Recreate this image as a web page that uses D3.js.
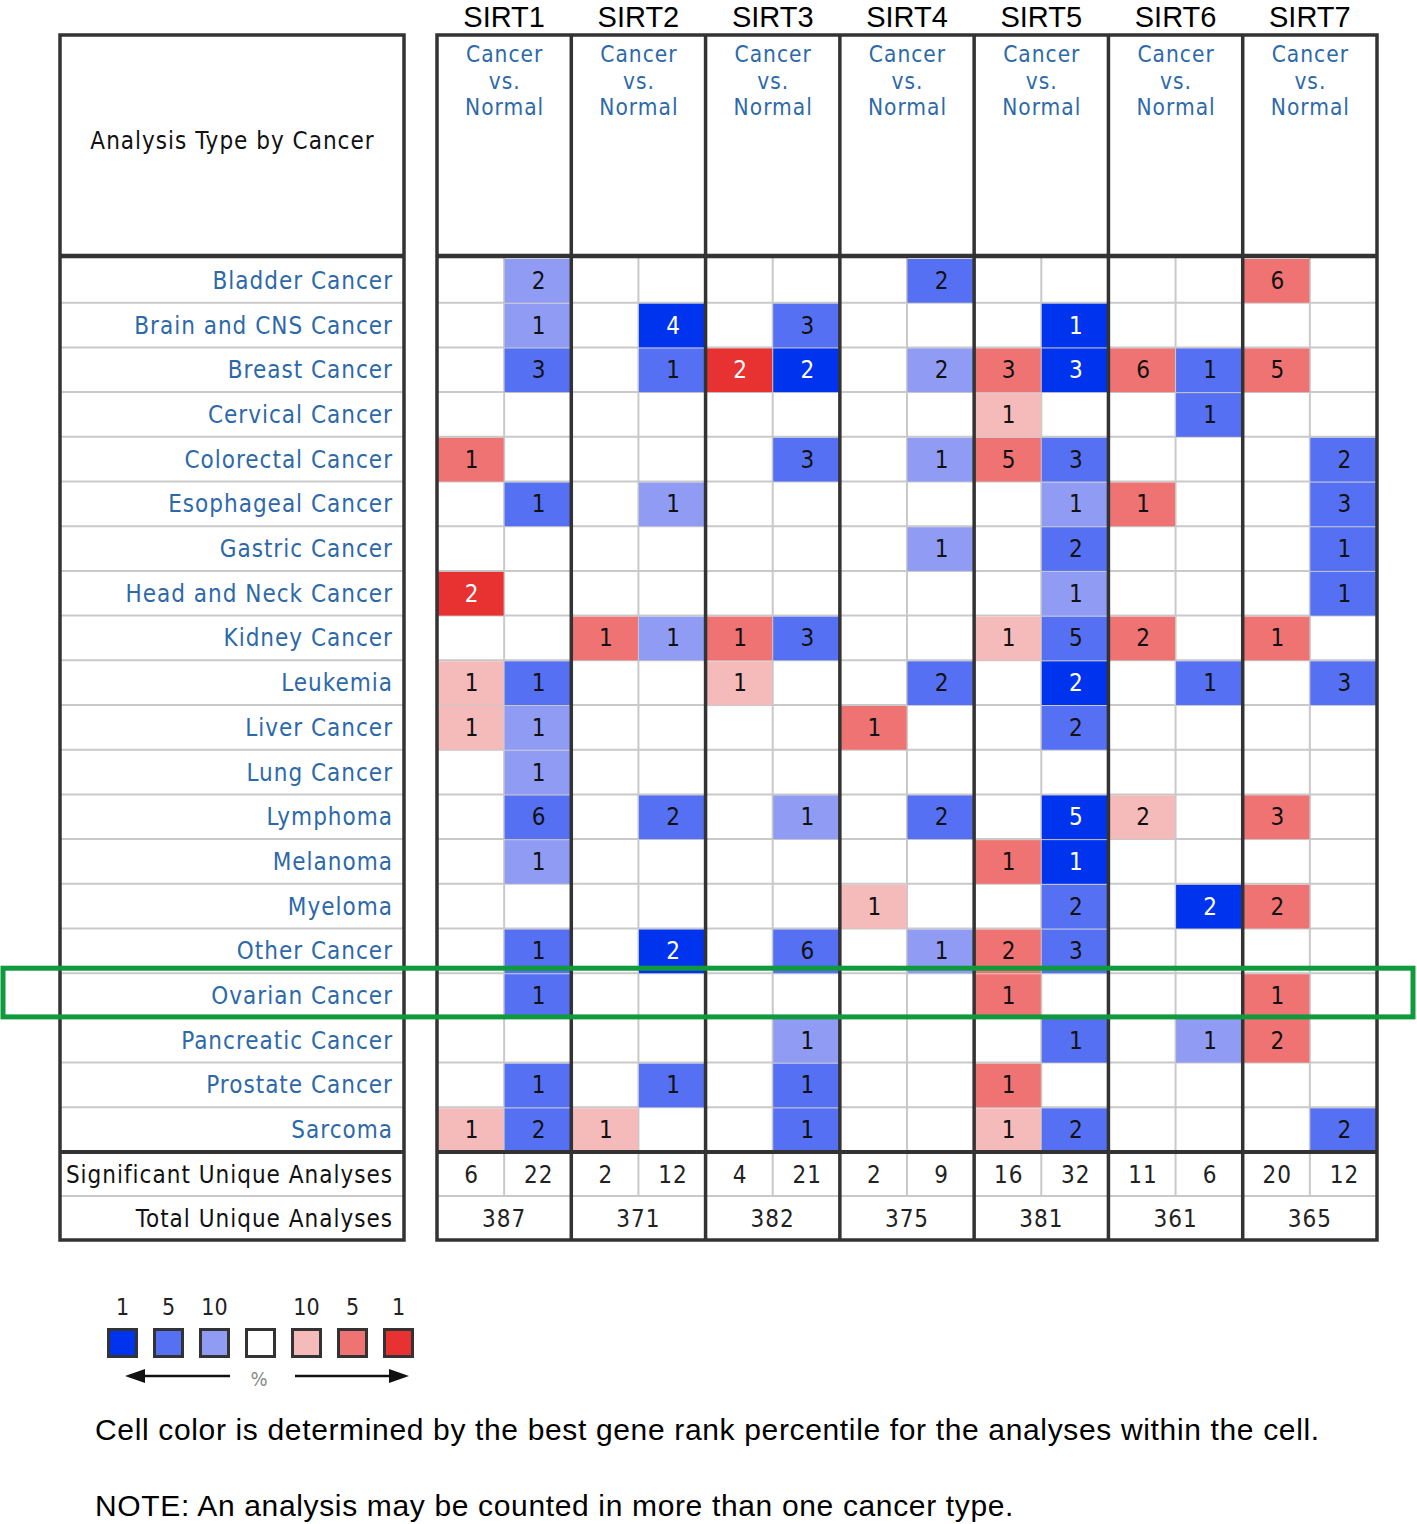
<!DOCTYPE html>
<html><head><meta charset="utf-8">
<script src="https://cdn.jsdelivr.net/npm/d3@7"></script>
<style>
html,body{margin:0;padding:0;background:#fff;}
svg{display:block;}
</style></head>
<body>
<svg id="chart" width="1417" height="1524"></svg>
<script>
// ---------------- DATA ----------------
const cancers = ["Bladder Cancer","Brain and CNS Cancer","Breast Cancer","Cervical Cancer","Colorectal Cancer",
  "Esophageal Cancer","Gastric Cancer","Head and Neck Cancer","Kidney Cancer","Leukemia","Liver Cancer",
  "Lung Cancer","Lymphoma","Melanoma","Myeloma","Other Cancer","Ovarian Cancer","Pancreatic Cancer",
  "Prostate Cancer","Sarcoma"];
const genes = ["SIRT1","SIRT2","SIRT3","SIRT4","SIRT5","SIRT6","SIRT7"];
const sigUp = [6,2,4,2,16,11,20];
const sigDown = [22,12,21,9,32,6,12];
const totals = [387,371,382,375,381,361,365];
// count of analyses per cell (0 = none); up = Cancer > Normal (red), down = Cancer < Normal (blue)
const upCounts = [
  [0,0,0,0,1,0,0,2,0,1,1,0,0,0,0,0,0,0,0,1],
  [0,0,0,0,0,0,0,0,1,0,0,0,0,0,0,0,0,0,0,1],
  [0,0,2,0,0,0,0,0,1,1,0,0,0,0,0,0,0,0,0,0],
  [0,0,0,0,0,0,0,0,0,0,1,0,0,0,1,0,0,0,0,0],
  [0,0,3,1,5,0,0,0,1,0,0,0,0,1,0,2,1,0,1,1],
  [0,0,6,0,0,1,0,0,2,0,0,0,2,0,0,0,0,0,0,0],
  [6,0,5,0,0,0,0,0,1,0,0,0,3,0,2,0,1,2,0,0]
];
// best gene rank percentile per cell (1, 5, 10 ; 0 = none)
const upPct = [
  [0,0,0,0,5,0,0,1,0,10,10,0,0,0,0,0,0,0,0,10],
  [0,0,0,0,0,0,0,0,5,0,0,0,0,0,0,0,0,0,0,10],
  [0,0,1,0,0,0,0,0,5,10,0,0,0,0,0,0,0,0,0,0],
  [0,0,0,0,0,0,0,0,0,0,5,0,0,0,10,0,0,0,0,0],
  [0,0,5,10,5,0,0,0,10,0,0,0,0,5,0,5,5,0,5,10],
  [0,0,5,0,0,5,0,0,5,0,0,0,10,0,0,0,0,0,0,0],
  [5,0,5,0,0,0,0,0,5,0,0,0,5,0,5,0,5,5,0,0]
];
const downCounts = [
  [2,1,3,0,0,1,0,0,0,1,1,1,6,1,0,1,1,0,1,2],
  [0,4,1,0,0,1,0,0,1,0,0,0,2,0,0,2,0,0,1,0],
  [0,3,2,0,3,0,0,0,3,0,0,0,1,0,0,6,0,1,1,1],
  [2,0,2,0,1,0,1,0,0,2,0,0,2,0,0,1,0,0,0,0],
  [0,1,3,0,3,1,2,1,5,2,2,0,5,1,2,3,0,1,0,2],
  [0,0,1,1,0,0,0,0,0,1,0,0,0,0,2,0,0,1,0,0],
  [0,0,0,0,2,3,1,1,0,3,0,0,0,0,0,0,0,0,0,2]
];
const downPct = [
  [10,10,5,0,0,5,0,0,0,5,10,10,5,10,0,5,5,0,5,5],
  [0,1,5,0,0,10,0,0,10,0,0,0,5,0,0,1,0,0,5,0],
  [0,5,1,0,5,0,0,0,5,0,0,0,10,0,0,5,0,10,5,5],
  [5,0,10,0,10,0,10,0,0,5,0,0,5,0,0,10,0,0,0,0],
  [0,1,1,0,5,10,5,10,5,1,5,0,1,1,5,5,0,5,0,5],
  [0,0,5,5,0,0,0,0,0,5,0,0,0,0,1,0,0,10,0,0],
  [0,0,0,0,5,5,5,5,0,5,0,0,0,0,0,0,0,0,0,5]
];
const legendLabels = ["1","5","10","","10","5","1"];
const legendKeys = ["b1","b5","b10","none","r10","r5","r1"];
const highlightRow = "Ovarian Cancer";
const notes = ["Cell color is determined by the best gene rank percentile for the analyses within the cell.",
  "NOTE: An analysis may be counted in more than one cancer type."];

(function () {
// ---------------- STYLE ----------------
const colors = {b1:"#0033ee", b5:"#5570f2", b10:"#909cf4", none:"#ffffff", r10:"#f5baba", r5:"#ef7373", r1:"#e83232"};
const tableFont = "'DejaVu Sans Condensed','DejaVu Sans',sans-serif";
const arial = "'Liberation Sans',Arial,sans-serif";
const labelBlue = "#2d69a9";
const thick = "#333", thin = "#c9c9c9";
const ls = 1; // letter spacing of table text

const svg = d3.select("#chart");

// ---------------- SCALES ----------------
const tTop = 35, headBottom = 256, bodyBottom = 1152, tBottom = 1240;
const leftX0 = 60, leftX1 = 404, gridX0 = 437, gridX1 = 1377;
const y = d3.scaleBand().domain(cancers).range([headBottom + 2, bodyBottom]);
const ySum = d3.scaleBand().domain(["sig","tot"]).range([bodyBottom, tBottom]);
const xg = d3.scaleBand().domain(genes).range([gridX0, gridX1]);
const xs = d3.scaleBand().domain(["up","down"]).range([0, xg.bandwidth()]);

// ---------------- CELLS ----------------
const cells = [];
genes.forEach((g, gi) => {
  cancers.forEach((c, ci) => {
    if (upCounts[gi][ci]) cells.push({g, c, dir:"up", n:upCounts[gi][ci], key:"r" + upPct[gi][ci]});
    if (downCounts[gi][ci]) cells.push({g, c, dir:"down", n:downCounts[gi][ci], key:"b" + downPct[gi][ci]});
  });
});

// ---------------- GRID LINES (thin) ----------------
const grid = svg.append("g").attr("stroke", thin).attr("stroke-width", 2);
cancers.slice(1).forEach(c => {
  grid.append("line").attr("x1", leftX0).attr("x2", leftX1).attr("y1", y(c)).attr("y2", y(c));
  grid.append("line").attr("x1", gridX0).attr("x2", gridX1).attr("y1", y(c)).attr("y2", y(c));
});
grid.append("line").attr("x1", leftX0).attr("x2", leftX1).attr("y1", ySum("tot")).attr("y2", ySum("tot"));
grid.append("line").attr("x1", gridX0).attr("x2", gridX1).attr("y1", ySum("tot")).attr("y2", ySum("tot"));
genes.forEach(g => {
  const xx = xg(g) + xs("down");
  grid.append("line").attr("x1", xx).attr("x2", xx).attr("y1", headBottom).attr("y2", ySum("tot"));
});

const cellG = svg.append("g");
cellG.selectAll("rect").data(cells).join("rect")
  .attr("x", d => xg(d.g) + xs(d.dir) + 0.5)
  .attr("y", d => y(d.c) + 1)
  .attr("width", xs.bandwidth() - 1)
  .attr("height", y.bandwidth() - 1)
  .attr("fill", d => colors[d.key]);

// ---------------- THICK BORDERS ----------------
const border = svg.append("g").attr("stroke", thick).attr("stroke-width", 3.5).attr("fill", "none");
border.append("rect").attr("x", leftX0).attr("y", tTop).attr("width", leftX1 - leftX0).attr("height", tBottom - tTop);
border.append("rect").attr("x", gridX0).attr("y", tTop).attr("width", gridX1 - gridX0).attr("height", tBottom - tTop);
[leftX0, gridX0].forEach((x0, i) => {
  const x1 = i ? gridX1 : leftX1;
  border.append("line").attr("x1", x0).attr("x2", x1).attr("y1", headBottom).attr("y2", headBottom).attr("stroke-width", 4.5);
  border.append("line").attr("x1", x0).attr("x2", x1).attr("y1", bodyBottom).attr("y2", bodyBottom).attr("stroke-width", 4);
});
genes.slice(1).forEach(g => {
  border.append("line").attr("x1", xg(g)).attr("x2", xg(g)).attr("y1", tTop).attr("y2", tBottom);
});

// ---------------- TEXT ----------------
svg.append("g").selectAll("text").data(genes).join("text")
  .attr("x", g => xg(g) + xg.bandwidth() / 2)
  .attr("y", 27)
  .attr("text-anchor", "middle")
  .attr("font-family", arial).attr("font-size", 29).attr("fill", "#000")
  .text(g => g);

genes.forEach(g => {
  const cx = xg(g) + xg.bandwidth() / 2 + ls / 2;
  [["Cancer", 62], ["vs.", 88.5], ["Normal", 114.5]].forEach(([s, yy]) => {
    svg.append("text").attr("x", cx).attr("y", yy)
      .attr("text-anchor", "middle").attr("letter-spacing", ls)
      .attr("font-family", tableFont).attr("font-size", 22.5).attr("fill", labelBlue)
      .text(s);
  });
});

svg.append("text").attr("x", (leftX0 + leftX1) / 2 + ls / 2).attr("y", 149)
  .attr("text-anchor", "middle").attr("letter-spacing", ls)
  .attr("font-family", tableFont).attr("font-size", 24).attr("fill", "#111")
  .text("Analysis Type by Cancer");

svg.append("g").selectAll("text").data(cancers).join("text")
  .attr("x", 392 + ls)
  .attr("y", c => y(c) + y.bandwidth() / 2 + 8.5)
  .attr("text-anchor", "end").attr("letter-spacing", ls)
  .attr("font-family", tableFont).attr("font-size", 24).attr("fill", labelBlue)
  .text(c => c);

svg.append("g").selectAll("text").data(cells).join("text")
  .attr("x", d => xg(d.g) + xs(d.dir) + xs.bandwidth() / 2 + 1)
  .attr("y", d => y(d.c) + y.bandwidth() / 2 + 8.5)
  .attr("text-anchor", "middle")
  .attr("font-family", tableFont).attr("font-size", 24)
  .attr("fill", d => (d.key === "r1" || d.key === "b1") ? "#fff" : "#111")
  .text(d => d.n);

svg.append("text").attr("x", 392 + ls).attr("y", ySum("sig") + ySum.bandwidth() / 2 + 8.5)
  .attr("text-anchor", "end").attr("letter-spacing", ls)
  .attr("font-family", tableFont).attr("font-size", 24).attr("fill", "#111")
  .text("Significant Unique Analyses");
svg.append("text").attr("x", 392 + ls).attr("y", ySum("tot") + ySum.bandwidth() / 2 + 8.5)
  .attr("text-anchor", "end").attr("letter-spacing", ls)
  .attr("font-family", tableFont).attr("font-size", 24).attr("fill", "#111")
  .text("Total Unique Analyses");

const sumG = svg.append("g").attr("font-family", tableFont).attr("font-size", 24).attr("fill", "#222")
  .attr("text-anchor", "middle").attr("letter-spacing", ls);
genes.forEach((g, gi) => {
  sumG.append("text").attr("x", xg(g) + xs("up") + xs.bandwidth() / 2 + 1).attr("y", ySum("sig") + ySum.bandwidth() / 2 + 8.5).text(sigUp[gi]);
  sumG.append("text").attr("x", xg(g) + xs("down") + xs.bandwidth() / 2 + 1).attr("y", ySum("sig") + ySum.bandwidth() / 2 + 8.5).text(sigDown[gi]);
  sumG.append("text").attr("x", xg(g) + xg.bandwidth() / 2).attr("y", ySum("tot") + ySum.bandwidth() / 2 + 8.5).text(totals[gi]);
});

svg.append("rect")
  .attr("x", 3).attr("y", y(highlightRow) - 5)
  .attr("width", 1410).attr("height", y.bandwidth() + 4)
  .attr("fill", "none").attr("stroke", "#0f9a3e").attr("stroke-width", 5);

// ---------------- LEGEND ----------------
const lx = d3.scaleBand().domain(legendKeys).range([107, 107 + 46 * 7]);
const lg = svg.append("g");
lg.selectAll("rect").data(legendKeys).join("rect")
  .attr("x", k => lx(k) + 1.5).attr("y", 1329.5)
  .attr("width", 28).attr("height", 27)
  .attr("fill", k => colors[k]).attr("stroke", "#333").attr("stroke-width", 3);
lg.selectAll("text").data(legendKeys).join("text")
  .attr("x", k => lx(k) + 15.5).attr("y", 1315)
  .attr("text-anchor", "middle").attr("font-family", tableFont).attr("font-size", 23).attr("fill", "#222")
  .text((k, i) => legendLabels[i]);
lg.append("line").attr("x1", 143).attr("x2", 230).attr("y1", 1376).attr("y2", 1376).attr("stroke", "#111").attr("stroke-width", 2.5);
lg.append("path").attr("d", "M125,1376 L145,1369 L145,1383 Z").attr("fill", "#111");
lg.append("line").attr("x1", 295).attr("x2", 392).attr("y1", 1376).attr("y2", 1376).attr("stroke", "#111").attr("stroke-width", 2.5);
lg.append("path").attr("d", "M409,1376 L389,1369 L389,1383 Z").attr("fill", "#111");
lg.append("text").attr("x", 259).attr("y", 1386).attr("text-anchor", "middle")
  .attr("font-family", tableFont).attr("font-size", 20).attr("fill", "#888").text("%");

svg.append("g").selectAll("text").data(notes).join("text")
  .attr("x", 95).attr("y", (d, i) => 1440 + i * 76)
  .attr("font-family", arial).attr("font-size", 30).attr("letter-spacing", 0.65).attr("fill", "#000")
  .text(d => d);
})();
</script>
</body></html>
